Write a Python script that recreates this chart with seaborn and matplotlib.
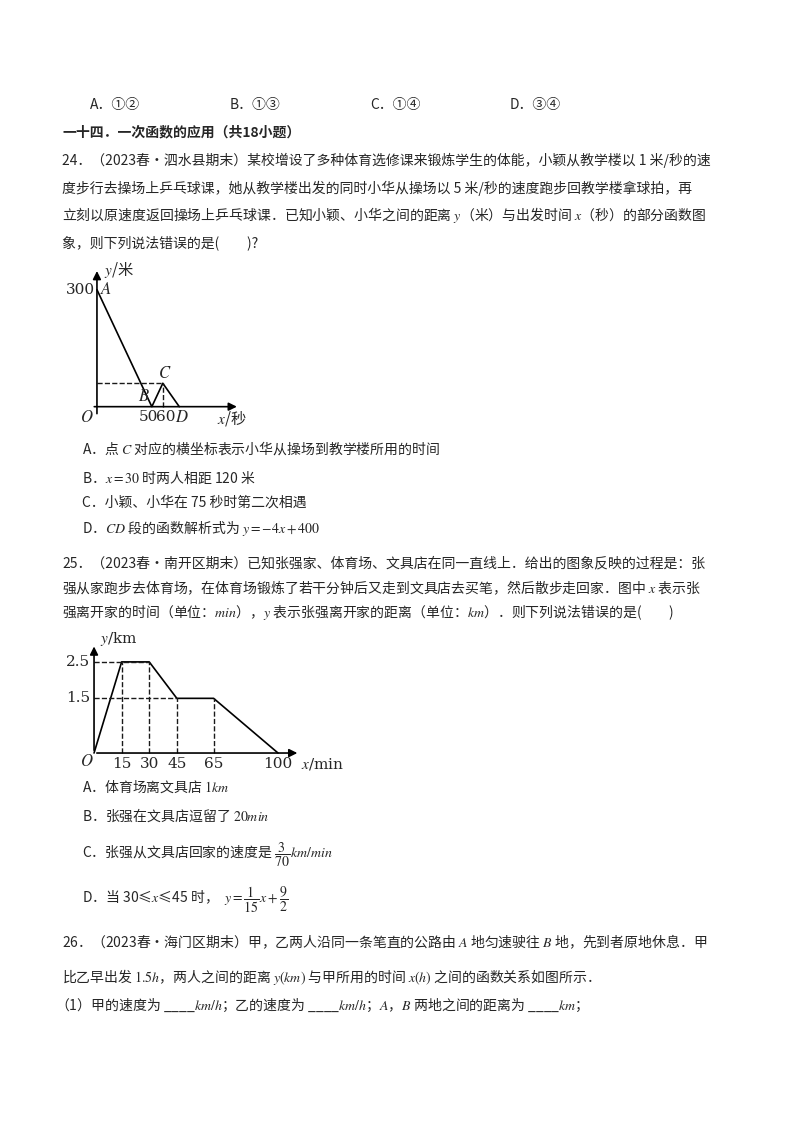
import matplotlib
matplotlib.use('Agg')
import seaborn as sns
import matplotlib.pyplot as plt

sns.set_theme(style='white')
plt.rcParams['font.family'] = ['Noto Sans CJK SC', 'DejaVu Sans']
plt.rcParams['mathtext.fontset'] = 'stix'

# graph 1 data (distance between the two, metres vs seconds)
g1X = [0, 50, 60, 75]
g1Y = [300, 0, 60, 0]
g1Labels = ['A', 'B', 'C', 'D']
# graph 2 data (distance from home, km vs min)
g2X = [0, 15, 30, 45, 65, 100]
g2Y = [0, 2.5, 2.5, 1.5, 1.5, 0]

W, H = 800, 1132
fig = plt.figure(figsize=(8, 11.32), dpi=100)

def txt(x, y, s, size=10, **kw):
	fig.text(x / W, 1 - y / H, s, fontsize=size, va='center', ha='left', **kw)

def axAt(x0, y0, x1, y1):
	return fig.add_axes([x0 / W, 1 - y1 / H, (x1 - x0) / W, (y1 - y0) / H])

txt(90, 105, 'A．①②'); txt(230, 105, 'B．①③'); txt(370, 105, 'C．①④'); txt(510, 105, 'D．③④')
txt(62, 132, '一十四．一次函数的应用（共18小题）', weight='bold')
txt(62, 160, '24．（2023春•泗水县期末）某校增设了多种体育选修课来锻炼学生的体能，小颖从教学楼以 1 米/秒的速')
txt(62, 188, '度步行去操场上乒乓球课，她从教学楼出发的同时小华从操场以 5 米/秒的速度跑步回教学楼拿球拍，再')
txt(62, 215, '立刻以原速度返回操场上乒乓球课．已知小颖、小华之间的距离 $y$（米）与出发时间 $x$（秒）的部分函数图')
txt(62, 243, '象，则下列说法错误的是(　　)?')

# graph 1
ax1 = axAt(75, 262, 255, 425)
ax1.set_xlim(-20, 144)
ax1.set_ylim(-47, 371)
ax1.axis('off')
sns.lineplot(x=g1X, y=g1Y, ax=ax1, color='black', lw=1.2, sort=False, estimator=None)
ax1.plot([0, g1X[2]], [g1Y[2], g1Y[2]], 'k--', lw=1)
ax1.plot([g1X[2], g1X[2]], [0, g1Y[2]], 'k--', lw=1)
ax1.annotate('', xy=(130, 0), xytext=(-5, 0), arrowprops=dict(arrowstyle='-|>', color='black', lw=1.2))
ax1.annotate('', xy=(0, 355), xytext=(0, -25), arrowprops=dict(arrowstyle='-|>', color='black', lw=1.2))
ax1.text(6, 350, '$y$/米', fontsize=11, va='center')
ax1.text(-2, 300, '300', fontsize=11, ha='right', va='center', family='serif')
offs = [(3, 0), (-7, 25), (2, 24), (2, -27)]
for x, y, l, o in zip(g1X, g1Y, g1Labels, offs):
	ax1.text(x + o[0], y + o[1], '$' + l + '$', fontsize=12, ha='center' if l != 'A' else 'left', va='center')
ax1.text(-9, -27, '$O$', fontsize=12, ha='center', va='center')
for t in [50, 60]:
	ax1.text(t + (-3 if t == 50 else 3), -27, str(t), fontsize=11, ha='center', va='center', family='serif')
ax1.text(123, -30, '$x$/秒', fontsize=11, ha='center', va='center')

txt(82, 448, 'A．点 $C$ 对应的横坐标表示小华从操场到教学楼所用的时间')
txt(82, 478, 'B．$x=30$ 时两人相距 120 米')
txt(82, 503, 'C．小颖、小华在 75 秒时第二次相遇')
txt(82, 528, 'D．$CD$ 段的函数解析式为 $y=-4x+400$')

txt(62, 563, '25．（2023春•南开区期末）已知张强家、体育场、文具店在同一直线上．给出的图象反映的过程是：张')
txt(62, 588, '强从家跑步去体育场，在体育场锻炼了若干分钟后又走到文具店去买笔，然后散步走回家．图中 $x$ 表示张')
txt(62, 613, '强离开家的时间（单位：$min$），$y$ 表示张强离开家的距离（单位：$km$）．则下列说法错误的是(　　)')

# graph 2
ax2 = axAt(60, 628, 345, 780)
ax2.set_xlim(-18.5, 136.4)
ax2.set_ylim(-0.74, 3.43)
ax2.axis('off')
sns.lineplot(x=g2X, y=g2Y, ax=ax2, color='black', lw=1.2, sort=False, estimator=None)
ax2.plot([0, 30], [2.5, 2.5], 'k--', lw=1)
ax2.plot([0, 45], [1.5, 1.5], 'k--', lw=1)
for x, y in zip(g2X[1:5], g2Y[1:5]):
	ax2.plot([x, x], [0, y], 'k--', lw=1)
ax2.annotate('', xy=(112, 0), xytext=(0, 0), arrowprops=dict(arrowstyle='-|>', color='black', lw=1.2))
ax2.annotate('', xy=(0, 3.0), xytext=(0, 0), arrowprops=dict(arrowstyle='-|>', color='black', lw=1.2))
ax2.text(3, 3.12, '$y$/km', fontsize=11, va='center', family='serif')
for v in [2.5, 1.5]:
	ax2.text(-2, v, str(v), fontsize=11, ha='right', va='center', family='serif')
ax2.text(-4, -0.22, '$O$', fontsize=12, ha='center', va='center')
for t in g2X[1:]:
	ax2.text(t, -0.3, str(t), fontsize=11, ha='center', va='center', family='serif')
ax2.text(124, -0.3, '$x$/min', fontsize=11, ha='center', va='center', family='serif')

txt(82, 787, 'A．体育场离文具店 $1km$')
txt(82, 815, 'B．张强在文具店逗留了 $20min$')
txt(82, 855, 'C．张强从文具店回家的速度是 $\\dfrac{3}{70}km/min$')
txt(82, 900, 'D．当 30≤$x$≤45 时，  $y=\\dfrac{1}{15}x+\\dfrac{9}{2}$')

txt(62, 942, '26．（2023春•海门区期末）甲，乙两人沿同一条笔直的公路由 $A$ 地匀速驶往 $B$ 地，先到者原地休息．甲')
txt(62, 977, '比乙早出发 $1.5h$，两人之间的距离 $y(km)$ 与甲所用的时间 $x(h)$ 之间的函数关系如图所示．')
txt(55, 1005, '（1）甲的速度为 ____$km/h$；乙的速度为 ____$km/h$；$A$，$B$ 两地之间的距离为 ____$km$；')

fig.savefig('out.png', dpi=100)
